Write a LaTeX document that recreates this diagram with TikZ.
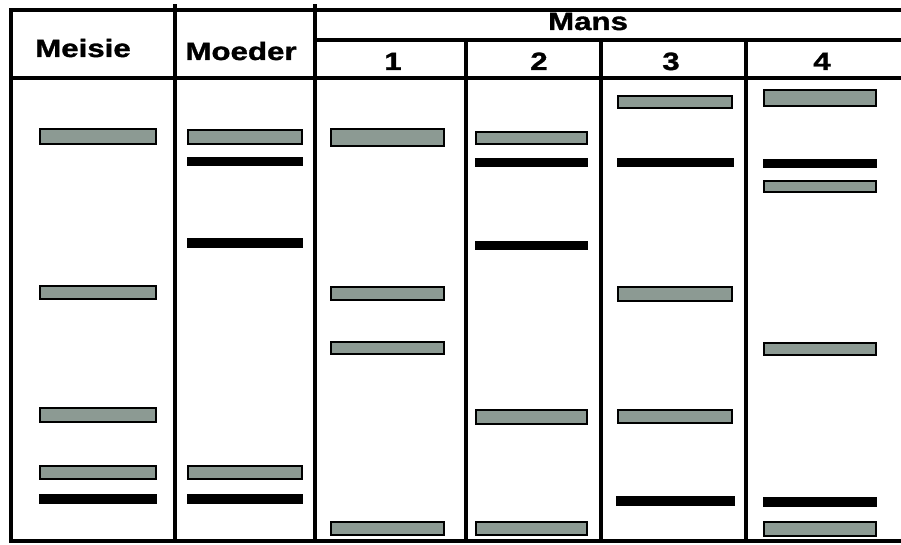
\documentclass[tikz,border=0pt]{standalone}
\usepackage{fontspec}
\newfontfamily\hdrfont[FakeStretch=1.25, BoldFeatures={FakeBold=1.3}]{Liberation Sans}
\definecolor{bandgray}{RGB}{140,154,147}
\begin{document}
\begin{tikzpicture}[x=1pt,y=-1pt]
\tikzset{
  rule/.style={line width=4.5pt, line cap=rect},
  thickband/.style={draw=black, line width=2.6pt, fill=bandgray},
  thinband/.style={draw=black, line width=1.5pt, fill=black},
  hdr/.style={font=\hdrfont\bfseries\fontsize{25}{25}\selectfont, inner sep=0pt, anchor=base}
}
\useasboundingbox (0,0) rectangle (901,545);
\fill[white] (0,0) rectangle (901,545);
% table rules
\draw[rule] (11,10) -- (901,10);
\draw[rule] (315,40) -- (901,40);
\draw[rule] (11,78) -- (901,78);
\draw[rule] (11,541) -- (901,541);
\draw[rule] (11,10) -- (11,541);
\draw[rule] (175,6) -- (175,541);
\draw[rule] (315,6) -- (315,541);
\draw[rule] (466,40) -- (466,541);
\draw[rule] (601,40) -- (601,541);
\draw[rule] (746,40) -- (746,541);
% headers
\node[hdr] (meisie) at (83,57) {Meisie};
\node[hdr] (moeder) at (241,60) {Moeder};
\node[hdr] (mans) at (588,30) {Mans};
\node[hdr] (m1) at (393,70) {1};
\node[hdr] (m2) at (539,70) {2};
\node[hdr] (m3) at (671,70) {3};
\node[hdr] (m4) at (822,70) {4};
% Meisie
\draw[thickband] (40,129) rectangle (156,144);
\draw[thickband] (40,286) rectangle (156,299);
\draw[thickband] (40,408) rectangle (156,422);
\draw[thickband] (40,466) rectangle (156,479);
\draw[thinband]  (40,495) rectangle (156,503);
% Moeder
\draw[thickband] (188,130) rectangle (302,144);
\draw[thinband]  (188,158) rectangle (302,165);
\draw[thinband]  (188,239) rectangle (302,247);
\draw[thickband] (188,466) rectangle (302,479);
\draw[thinband]  (188,495) rectangle (302,503);
% Man 1
\draw[thickband] (331,129) rectangle (444,146);
\draw[thickband] (331,287) rectangle (444,300);
\draw[thickband] (331,342) rectangle (444,354);
\draw[thickband] (331,522) rectangle (444,535);
% Man 2
\draw[thickband] (476,132) rectangle (587,144);
\draw[thinband]  (476,159) rectangle (587,166);
\draw[thinband]  (476,242) rectangle (587,249);
\draw[thickband] (476,410) rectangle (587,424);
\draw[thickband] (476,522) rectangle (587,535);
% Man 3
\draw[thickband] (618,96) rectangle (732,108);
\draw[thinband]  (618,159) rectangle (733,166);
\draw[thickband] (618,287) rectangle (732,301);
\draw[thickband] (618,410) rectangle (732,423);
\draw[thinband]  (617,497) rectangle (734,505);
% Man 4
\draw[thickband] (764,90) rectangle (876,106);
\draw[thinband]  (764,160) rectangle (876,167);
\draw[thickband] (764,181) rectangle (876,192);
\draw[thickband] (764,343) rectangle (876,355);
\draw[thinband]  (764,498) rectangle (876,506);
\draw[thickband] (764,522) rectangle (876,536);
\end{tikzpicture}
\end{document}
